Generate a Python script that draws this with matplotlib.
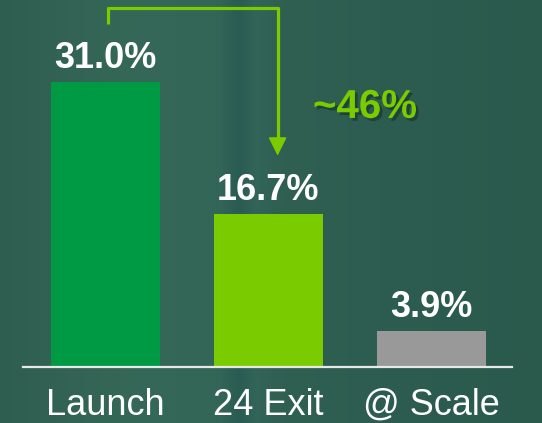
import numpy as np
import matplotlib
matplotlib.use("Agg")
import matplotlib.pyplot as plt
import matplotlib.patheffects as pe

plt.rcParams['font.family'] = ['Liberation Sans', 'DejaVu Sans']

categories = ["Launch", "24 Exit", "@ Scale"]
values = [31.0, 16.7, 3.9]
value_labels = ["31.0%", "16.7%", "3.9%"]
bar_colors = ["#009944", "#7acc00", "#999999"]
change_label = "~46%"

W, H = 542, 423
fig = plt.figure(figsize=(W / 100, H / 100), dpi=100)

# background gradient
bg = fig.add_axes([0, 0, 1, 1], zorder=0)
bg.set_axis_off()
xs = np.linspace(0, 1, 400)
stops = [0.0, 0.25, 0.40, 0.44, 0.47, 0.52, 0.70, 1.0]
cols = np.array([
    (46, 94, 79), (54, 104, 88), (52, 102, 88), (42, 92, 83),
    (50, 100, 88), (47, 96, 82), (45, 93, 80), (42, 90, 76)
]) / 255.0
img = np.stack([np.interp(xs, stops, cols[:, c]) for c in range(3)], axis=-1)
img = np.tile(img[None, :, :], (50, 1, 1))
bg.imshow(img, aspect='auto', extent=[0, 1, 0, 1])
bg.set_xlim(0, 1)
bg.set_ylim(0, 1)

ax = fig.add_axes([23 / W, 56 / H, 489 / W, 367 / H], zorder=1)
ax.patch.set_alpha(0)
x = np.arange(len(categories))
ax.bar(x, values, width=0.669, color=bar_colors, zorder=2)
ax.set_xlim(-0.506, 2.494)
ax.set_ylim(0, 39.93)

for s in ["top", "right", "left"]:
    ax.spines[s].set_visible(False)
ax.spines["bottom"].set_color("#e8e8e8")
ax.spines["bottom"].set_linewidth(1.6)
ax.set_yticks([])
ax.set_xticks(x)
ax.set_xticklabels(categories, fontsize=26, color="white")
ax.tick_params(axis="x", length=0, pad=15)

for xi, v, lab in zip(x, values, value_labels):
    ax.annotate(lab, xy=(xi, v), xytext=(0, 10), textcoords="offset points",
                ha="center", va="baseline", fontsize=26, fontweight="bold",
                color="white")

# bracket arrow from Launch to 24 Exit
green = "#7acc00"
x0, x1 = x[0] + 0.015, x[1] + 0.056
y_start, y_top = 37.3, 39.05
y_tip = values[1] + 6.3
ax.plot([x0, x0, x1, x1], [y_start, y_top, y_top, y_tip + 1.2],
        color=green, lw=2.3, solid_capstyle="butt", clip_on=False, zorder=3)
ax.annotate("", xy=(x1, y_tip), xytext=(x1, y_tip + 1.8),
            arrowprops=dict(arrowstyle="-|>,head_length=0.58,head_width=0.29",
                            color=green, lw=1.0, mutation_scale=20,
                            shrinkA=0, shrinkB=0), zorder=3)

ax.text(1.592, 27.1, change_label, ha="center", va="baseline", fontsize=29,
        fontweight="bold", color=green, zorder=4,
        path_effects=[pe.withSimplePatchShadow(offset=(2, -2),
                                               shadow_rgbFace="#16302a",
                                               alpha=0.6)])

fig.savefig("out.png", dpi=100)
